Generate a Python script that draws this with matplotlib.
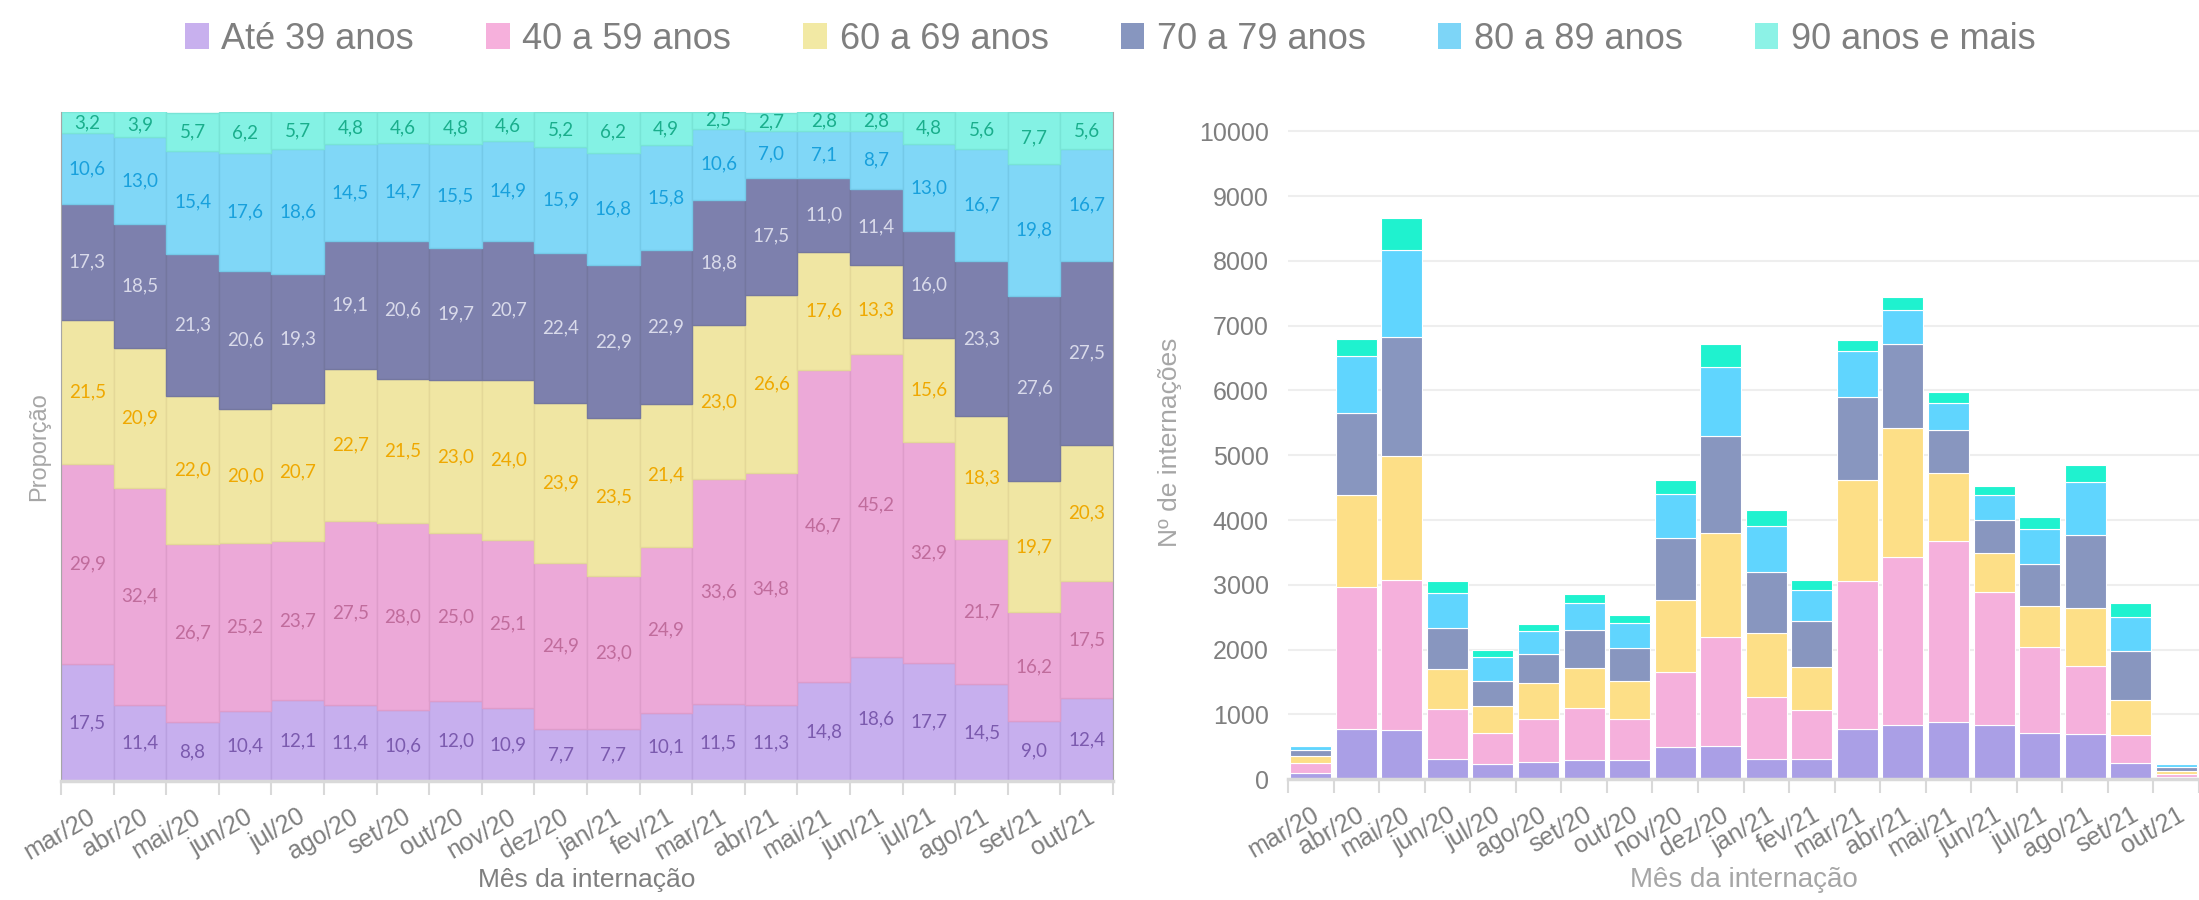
import numpy as np
import matplotlib
matplotlib.use("Agg")
import matplotlib.pyplot as plt
from matplotlib.patches import Patch

plt.rcParams['font.family'] = ['Liberation Sans', 'DejaVu Sans']

meses = ["mar/20", "abr/20", "mai/20", "jun/20", "jul/20", "ago/20", "set/20",
         "out/20", "nov/20", "dez/20", "jan/21", "fev/21", "mar/21", "abr/21",
         "mai/21", "jun/21", "jul/21", "ago/21", "set/21", "out/21"]
faixas = ["Até 39 anos", "40 a 59 anos", "60 a 69 anos", "70 a 79 anos",
          "80 a 89 anos", "90 anos e mais"]

# proporção (%) por faixa etária
pct_ate39 = [17.5, 11.4, 8.8, 10.4, 12.1, 11.4, 10.6, 12.0, 10.9, 7.7, 7.7, 10.1,
             11.5, 11.3, 14.8, 18.6, 17.7, 14.5, 9.0, 12.4]
pct_40_59 = [29.9, 32.4, 26.7, 25.2, 23.7, 27.5, 28.0, 25.0, 25.1, 24.9, 23.0, 24.9,
             33.6, 34.8, 46.7, 45.2, 32.9, 21.7, 16.2, 17.5]
pct_60_69 = [21.5, 20.9, 22.0, 20.0, 20.7, 22.7, 21.5, 23.0, 24.0, 23.9, 23.5, 21.4,
             23.0, 26.6, 17.6, 13.3, 15.6, 18.3, 19.7, 20.3]
pct_70_79 = [17.3, 18.5, 21.3, 20.6, 19.3, 19.1, 20.6, 19.7, 20.7, 22.4, 22.9, 22.9,
             18.8, 17.5, 11.0, 11.4, 16.0, 23.3, 27.6, 27.5]
pct_80_89 = [10.6, 13.0, 15.4, 17.6, 18.6, 14.5, 14.7, 15.5, 14.9, 15.9, 16.8, 15.8,
             10.6, 7.0, 7.1, 8.7, 13.0, 16.7, 19.8, 16.7]
pct_90 = [3.2, 3.9, 5.7, 6.2, 5.7, 4.8, 4.6, 4.8, 4.6, 5.2, 6.2, 4.9,
          2.5, 2.7, 2.8, 2.8, 4.8, 5.6, 7.7, 5.6]

# nº de internações por faixa etária
n_ate39 = [93, 774, 763, 318, 242, 274, 303, 304, 502, 517, 320, 311,
           780, 842, 885, 841, 717, 703, 245, 31]
n_40_59 = [158, 2200, 2315, 771, 474, 660, 801, 634, 1157, 1672, 956, 766,
           2278, 2593, 2793, 2043, 1332, 1052, 441, 44]
n_60_69 = [114, 1419, 1907, 612, 414, 545, 615, 583, 1106, 1605, 976, 658,
           1559, 1982, 1052, 601, 632, 888, 536, 51]
n_70_79 = [92, 1256, 1847, 630, 386, 458, 589, 499, 954, 1504, 951, 704,
           1275, 1304, 658, 515, 648, 1130, 751, 69]
n_80_89 = [56, 883, 1335, 539, 372, 348, 420, 393, 687, 1068, 698, 486,
           719, 522, 425, 393, 527, 810, 539, 42]
n_90 = [17, 265, 494, 190, 114, 115, 132, 122, 212, 349, 258, 151,
        170, 201, 167, 127, 194, 272, 209, 14]

pcts = [pct_ate39, pct_40_59, pct_60_69, pct_70_79, pct_80_89, pct_90]
counts = [n_ate39, n_40_59, n_60_69, n_70_79, n_80_89, n_90]

cores_esq = ["#C7AFEE", "#ECA9D8", "#F0E6A3", "#7D80AD", "#80D7F7", "#84F2E4"]
bordas_esq = ["#B9A0E0", "#DE9CCA", "#E4D898", "#74779F", "#74C9E8", "#78E4D6"]
cores_txt = ["#7B5AAE", "#C06C9C", "#EFA800", "#D9DAEA", "#18A0DC", "#1AAE8C"]
cores_dir = ["#AA9FE6", "#F5B0DC", "#FDDF87", "#8896BF", "#60D5FE", "#1FF2CF"]
cores_leg = ["#C8B0EE", "#F6B0DC", "#F2E9A4", "#8796BF", "#7DD5F7", "#8CF2E6"]

x = np.arange(len(meses))
fig = plt.figure(figsize=(21.99, 9), dpi=100)

# --- esquerda: proporção ---
ax1 = fig.add_axes([61 / 2199, 119 / 900, 1052 / 2199, 669 / 900])
base = np.zeros(len(meses))
for vals, c, e, tc in zip(pcts, cores_esq, bordas_esq, cores_txt):
    vals = np.array(vals)
    ax1.bar(x, vals, bottom=base, width=1.0, color=c, edgecolor=e, linewidth=1.0)
    for xi, b, v in zip(x, base, vals):
        ax1.text(xi, b + v / 2, f"{v:.1f}".replace(".", ","), ha="center",
                 va="center", fontsize=13.5, color=tc, family="Lato")
    base += vals
ax1.set_xlim(-0.5, len(meses) - 0.5)
ax1.set_ylim(0, 100)
ax1.set_yticks([])
ax1.set_xticks(x)
ax1.set_xticklabels(meses, rotation=30, ha="right", rotation_mode="anchor",
                    fontsize=18, color="#7F7F7F")
ax1.set_xticks(list(x - 0.5) + [len(meses) - 0.5], minor=True)
ax1.tick_params(axis="x", which="major", length=0, pad=17)
ax1.tick_params(axis="x", which="minor", length=10, width=1.5, color="#D9D9D9")
ax1.spines["top"].set_visible(False)
ax1.spines["left"].set_color("#A6A6A6")
ax1.spines["right"].set_color("#A6A6A6")
ax1.spines["bottom"].set_color("#D9D9D9")
ax1.spines["bottom"].set_linewidth(2.5)
ax1.set_xlabel("Mês da internação", fontsize=19, color="#7F7F7F", labelpad=3)
ax1.set_ylabel("Proporção", fontsize=17, color="#A6A6A6", labelpad=8)

# --- direita: nº de internações ---
ax2 = fig.add_axes([1288 / 2199, (900 - 779.3) / 900, 911 / 2199, 674 / 900])
base = np.zeros(len(meses))
for vals, c in zip(counts, cores_dir):
    vals = np.array(vals)
    ax2.bar(x, vals, bottom=base, width=0.9, color=c, edgecolor="white",
            linewidth=0.8, zorder=2)
    base += vals
ax2.set_xlim(-0.5, len(meses) - 0.5)
ax2.set_ylim(0, 10400)
ax2.set_yticks(np.arange(0, 10001, 1000))
ax2.tick_params(axis="y", length=0, labelsize=18, labelcolor="#7F7F7F", pad=14)
ax2.grid(axis="y", color="#EEEEEE", linewidth=1.5, zorder=0)
ax2.set_axisbelow(True)
ax2.set_xticks(x)
ax2.set_xticklabels(meses, rotation=30, ha="right", rotation_mode="anchor",
                    fontsize=18, color="#7F7F7F")
ax2.set_xticks(list(x - 0.5) + [len(meses) - 0.5], minor=True)
ax2.tick_params(axis="x", which="major", length=0, pad=17)
ax2.tick_params(axis="x", which="minor", length=10, width=1.5, color="#D9D9D9")
for s in ["top", "left", "right"]:
    ax2.spines[s].set_visible(False)
ax2.spines["bottom"].set_color("#D9D9D9")
ax2.spines["bottom"].set_linewidth(2.5)
ax2.set_xlabel("Mês da internação", fontsize=20, color="#A6A6A6", labelpad=3)
ax2.set_ylabel("Nº de internações", fontsize=19, color="#A6A6A6", labelpad=12)

# --- legenda ---
handles = [Patch(facecolor=c, edgecolor="none") for c in cores_leg]
fig.legend(handles, faixas, loc="upper center", bbox_to_anchor=(0.505, 1.0),
           ncol=6, frameon=False, fontsize=26, labelcolor="#7F7F7F",
           handlelength=0.65, handleheight=0.75, handletextpad=0.35,
           columnspacing=2.0, borderaxespad=0.2)

fig.savefig("out.png", dpi=100)
